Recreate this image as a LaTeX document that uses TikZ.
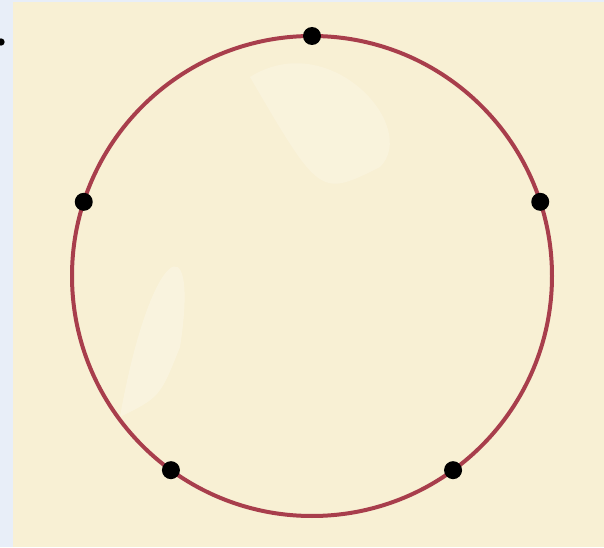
\documentclass[tikz,border=0pt]{standalone}
\usepackage{xcolor}
\usepackage{tikz}
\usetikzlibrary{positioning, calc}

\definecolor{parchment}{RGB}{248,240,212}
\definecolor{paleblue}{RGB}{232,238,248}
\definecolor{ringred}{RGB}{168,62,76}

\begin{document}
\begin{tikzpicture}[
  x=0.03cm, y=0.03cm,
  ring/.style={draw=ringred, line width=0.12cm},
  vertex/.style={circle, fill=black, inner sep=0pt, minimum size=0.54cm},
  tick/.style={circle, fill=black, inner sep=0pt, minimum size=0.22cm},
]

% Background
\useasboundingbox (0,0) rectangle (604,547);
\fill[paleblue] (0,0) rectangle (604,547);
\fill[parchment] (13,0) rectangle (604,545);
\fill[white, opacity=0.25] (120,130) .. controls (150,300) and (200,330) .. (180,200)
  .. controls (160,150) .. (120,130);
\fill[white, opacity=0.2] (250,470) .. controls (330,520) and (420,420) .. (380,380)
  .. controls (320,350) .. (250,470);

% Circle
\coordinate (c) at (312,271);
\draw[ring] (c) circle (240);

% Points on the circle
\node[vertex] (p1) at ($(c)+(90:240)$) {};
\node[vertex] (p2) at ($(c)+(162:240)$) {};
\node[vertex] (p3) at ($(c)+(234:240)$) {};
\node[vertex] (p4) at ($(c)+(306:240)$) {};
\node[vertex] (p5) at ($(c)+(18:240)$) {};

% Stray dot at the edge
\node[tick] (d) at (1,505) {};

\end{tikzpicture}
\end{document}
